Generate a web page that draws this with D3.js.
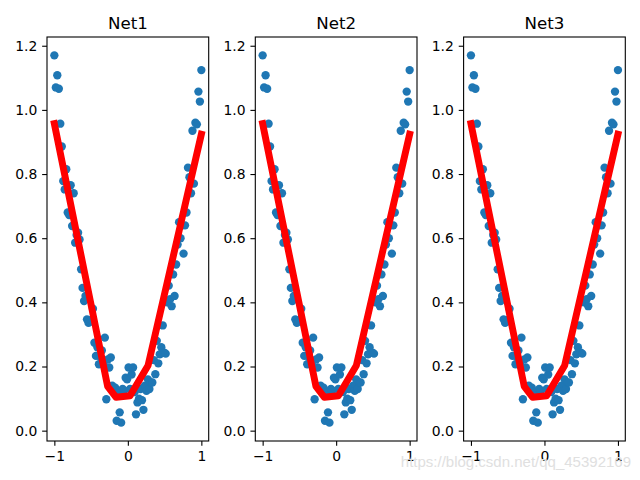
<!DOCTYPE html>
<html><head><meta charset="utf-8">
<script src="https://cdn.jsdelivr.net/npm/d3@7"></script>
<style>body{margin:0;background:#fff}svg{display:block}</style>
</head><body>
<svg id="chart" width="640" height="480"></svg>
<script>
const titles = ["Net1", "Net2", "Net3"];
const xTicks = [-1, 0, 1];
const yTicks = [0.0, 0.2, 0.4, 0.6, 0.8, 1.0, 1.2];
// scatter x values: 100 evenly spaced samples on [-1, 1] (read as -1, -0.98, ..., 1)
const xs = [-1.000,-0.980,-0.960,-0.939,-0.919,-0.899,-0.879,-0.859,-0.838,-0.818,
-0.798,-0.778,-0.758,-0.737,-0.717,-0.697,-0.677,-0.657,-0.636,-0.616,
-0.596,-0.576,-0.556,-0.535,-0.515,-0.495,-0.475,-0.455,-0.434,-0.414,
-0.394,-0.374,-0.354,-0.333,-0.313,-0.293,-0.273,-0.253,-0.232,-0.212,
-0.192,-0.172,-0.152,-0.131,-0.111,-0.091,-0.071,-0.051,-0.030,-0.010,
0.010,0.030,0.051,0.071,0.091,0.111,0.131,0.152,0.172,0.192,
0.212,0.232,0.253,0.273,0.293,0.313,0.333,0.354,0.374,0.394,
0.414,0.434,0.455,0.475,0.495,0.515,0.535,0.556,0.576,0.596,
0.616,0.636,0.657,0.677,0.697,0.717,0.737,0.758,0.778,0.798,
0.818,0.838,0.859,0.879,0.899,0.919,0.939,0.960,0.980,1.000];
const ys = [1.170,1.070,1.108,1.066,0.957,0.886,0.778,0.752,0.815,0.680,
0.672,0.765,0.638,0.740,0.586,0.610,0.617,0.596,0.503,0.445,
0.404,0.420,0.347,0.336,0.340,0.345,0.380,0.274,0.233,0.260,
0.207,0.230,0.250,0.210,0.290,0.098,0.222,0.197,0.228,0.140,
0.120,0.134,0.031,0.120,0.057,0.025,0.130,0.125,0.165,0.160,
0.197,0.130,0.175,0.197,0.120,0.051,0.088,0.100,0.130,0.095,
0.065,0.140,0.124,0.160,0.130,0.150,0.150,0.220,0.176,0.280,
0.210,0.238,0.260,0.328,0.243,0.240,0.400,0.452,0.410,0.388,
0.487,0.420,0.518,0.580,0.650,0.600,0.640,0.552,0.640,0.680,
0.820,0.790,0.740,0.935,0.770,0.960,0.955,1.057,1.026,1.124];
// prediction line (red), read at its bends
const predX = [-1.000, -0.275, -0.160, 0.030, 0.275, 1.000];
const predY = [0.957, 0.138, 0.104, 0.109, 0.203, 0.924];

const svg = d3.select("#chart");
const axLefts = [47, 255.3, 463.6];
const axW = 161.7, axTop = 37, axBottom = 441;
const font = "DejaVu Sans, sans-serif";

const ymin = d3.min(ys), ymax = d3.max(ys), yr = ymax - ymin;
const xmin = d3.min(xs), xmax = d3.max(xs), xr = xmax - xmin;

titles.forEach((t, k) => {
  const left = axLefts[k];
  const x = d3.scaleLinear().domain([xmin - 0.05 * xr, xmax + 0.05 * xr]).range([left, left + axW]);
  const y = d3.scaleLinear().domain([ymin - 0.05 * yr, ymax + 0.05 * yr]).range([axBottom, axTop]);
  const g = svg.append("g");
  const clipId = "clip" + k;
  svg.append("clipPath").attr("id", clipId).append("rect")
    .attr("x", left).attr("y", axTop).attr("width", axW).attr("height", axBottom - axTop);
  const plot = g.append("g").attr("clip-path", `url(#${clipId})`);
  plot.selectAll("circle").data(xs.map((v, i) => [v, ys[i]])).join("circle")
    .attr("cx", d => x(d[0])).attr("cy", d => y(d[1])).attr("r", 4.17)
    .attr("fill", "#1f77b4");
  plot.append("path")
    .datum(predX.map((v, i) => [v, predY[i]]))
    .attr("d", d3.line().x(d => x(d[0])).y(d => y(d[1])))
    .attr("fill", "none").attr("stroke", "#ff0000").attr("stroke-width", 6.94)
    .attr("stroke-linejoin", "round").attr("stroke-linecap", "square");

  const xAxis = g.append("g").attr("transform", `translate(0,${axBottom})`)
    .call(d3.axisBottom(x).tickValues(xTicks).tickSize(4.86).tickPadding(4.9)
      .tickFormat(d => d < 0 ? "\u2212" + Math.abs(d) : String(d)));
  const yAxis = g.append("g").attr("transform", `translate(${left},0)`)
    .call(d3.axisLeft(y).tickValues(yTicks).tickSize(4.86).tickPadding(4.9)
      .tickFormat(d3.format(".1f")));
  [xAxis, yAxis].forEach(a => {
    a.select(".domain").remove();
    a.selectAll(".tick line").attr("stroke", "#000").attr("stroke-width", 1.1);
    a.selectAll("text").attr("font-family", font).attr("font-size", "13.9px").attr("fill", "#000");
  });
  g.append("rect").attr("x", left).attr("y", axTop).attr("width", axW).attr("height", axBottom - axTop)
    .attr("fill", "none").attr("stroke", "#000").attr("stroke-width", 1.1);
  g.append("text").attr("x", left + axW / 2).attr("y", 29.3).attr("text-anchor", "middle")
    .attr("font-family", font).attr("font-size", "16.67px").attr("fill", "#000").text(t);
});

svg.append("text").attr("x", 631).attr("y", 467).attr("text-anchor", "end")
  .attr("font-family", "Liberation Sans, Arial, sans-serif").attr("font-size", "15px")
  .attr("fill", "#e0e0e0").text("https://blog.csdn.net/qq_45392169");
</script>
</body></html>
